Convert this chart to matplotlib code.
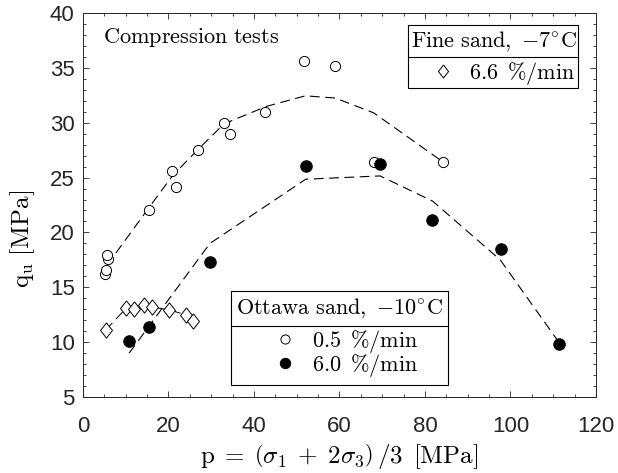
import matplotlib
matplotlib.use("Agg")
import matplotlib.pyplot as plt
from matplotlib.patches import Rectangle
from matplotlib.lines import Line2D
from matplotlib.ticker import MultipleLocator

plt.rcParams['mathtext.fontset'] = 'cm'
plt.rcParams['font.family'] = ['Liberation Sans', 'DejaVu Sans']
plt.rcParams['lines.scale_dashes'] = False

# Ottawa sand, -10 C, 0.5 %/min (open circles)
p_open = [5.2, 5.3, 5.9, 5.6, 15.5, 20.8, 21.8, 26.9, 33.0, 34.5, 42.6, 51.7, 59.0, 68.0, 84.3]
q_open = [16.2, 16.6, 17.6, 17.9, 22.05, 25.6, 24.1, 27.5, 29.95, 29.0, 31.0, 35.65, 35.2, 26.45, 26.45]

# Ottawa sand, -10 C, 6.0 %/min (filled circles)
p_fill = [10.8, 15.5, 29.7, 52.1, 69.4, 81.7, 97.8, 111.3]
q_fill = [10.13, 11.35, 17.3, 26.06, 26.25, 21.1, 18.46, 9.82]

# Fine sand, -7 C, 6.6 %/min (diamonds)
p_dia = [5.3, 10.1, 12.0, 14.2, 16.1, 20.1, 24.0, 25.8]
q_dia = [11.1, 13.1, 13.05, 13.4, 13.2, 12.95, 12.5, 11.95]

# trend lines (dashed)
p_trend_open = [5.6, 15.5, 21.0, 27.0, 33.0, 43.0, 52.0, 59.0, 68.0, 84.3]
q_trend_open = [17.0, 22.3, 25.2, 27.6, 29.9, 31.5, 32.45, 32.25, 30.9, 26.4]
p_trend_fill = [10.8, 29.7, 52.1, 69.5, 81.8, 97.6, 111.3]
q_trend_fill = [9.0, 19.0, 24.85, 25.15, 22.85, 17.5, 10.0]

fig = plt.figure(figsize=(6.18, 4.73), dpi=100)
ax = fig.add_axes([0.1343, 0.1607, 0.8301, 0.8118])

dash = (7, 4)
ax.plot(p_trend_open, q_trend_open, color='black', lw=0.8, dashes=dash, zorder=2)
ax.plot(p_trend_fill, q_trend_fill, color='black', lw=0.8, dashes=dash, zorder=2)
ax.plot(p_dia, q_dia, color='black', lw=0.7, dashes=dash, zorder=2)

dmark = [(0, 1), (0.78, 0), (0, -1), (-0.78, 0), (0, 1)]
h_dia, = ax.plot(p_dia, q_dia, ls='none', marker=dmark, ms=11, mfc='white',
                 mec='black', mew=0.7, zorder=3)
h_open, = ax.plot(p_open, q_open, ls='none', marker='o', ms=7.3, mfc='white',
                  mec='black', mew=0.7, zorder=3)
h_fill, = ax.plot(p_fill, q_fill, ls='none', marker='o', ms=8.3, mfc='black',
                  mec='black', mew=0.7, zorder=3)

ax.set_xlim(0, 120)
ax.set_ylim(5, 40)
ax.xaxis.set_major_locator(MultipleLocator(20))
ax.xaxis.set_minor_locator(MultipleLocator(5))
ax.yaxis.set_major_locator(MultipleLocator(5))
ax.yaxis.set_minor_locator(MultipleLocator(1))
gray = '#262626'
ax.tick_params(which='both', direction='in', top=True, right=True, colors=gray,
               width=0.6, labelsize=16)
ax.tick_params(which='major', length=4)
ax.tick_params(which='minor', length=2.2)
ax.tick_params(axis='x', pad=14)
ax.tick_params(axis='y', pad=6)
for s in ax.spines.values():
    s.set_color(gray)
    s.set_linewidth(0.7)

ax.set_xlabel(r"$\mathrm{p}\;=\;\left(\sigma_1\;+\;2\sigma_3\right)\,/3\ \,[\mathrm{MPa}]$",
              fontsize=18)
ax.set_ylabel(r"$\mathrm{q_u}\ [\mathrm{MPa}]$", fontsize=18)
ax.xaxis.set_label_coords(0.499, -0.156)
ax.xaxis.label.set_va('center')
ax.yaxis.set_label_coords(-0.117, 0.411)
ax.yaxis.label.set_va('center')

ax.text(0.0396, 0.9375, r"$\mathrm{Compression\ tests}$", transform=ax.transAxes,
        fontsize=16, ha='left', va='center')

fs = 16
# Fine sand box
ax.add_patch(Rectangle((0.634, 0.804), 0.330, 0.165, transform=ax.transAxes,
                       facecolor='white', edgecolor='black', lw=0.8, zorder=5))
ax.add_line(Line2D([0.634, 0.964], [0.885, 0.885], transform=ax.transAxes,
                   color='black', lw=0.8, zorder=6))
ax.text(0.801, 0.927, r"$\mathrm{Fine\ sand,}\ {-}7^{\circ}\mathrm{C}$",
        transform=ax.transAxes, fontsize=fs, ha='center', va='center', zorder=7)
leg1 = ax.legend([h_dia], [r"$6.6\ \,\%/\mathrm{min}$"], loc='center left',
                 bbox_to_anchor=(0.681, 0.843), frameon=False, fontsize=fs,
                 handlelength=1.0, handletextpad=0.63, borderpad=0,
                 borderaxespad=0, markerscale=0.85)
leg1.set_zorder(8)
ax.add_artist(leg1)

# Ottawa sand box
ax.add_patch(Rectangle((0.2885, 0.031), 0.4225, 0.245, transform=ax.transAxes,
                       facecolor='white', edgecolor='black', lw=0.8, zorder=5))
ax.add_line(Line2D([0.2885, 0.711], [0.186, 0.186], transform=ax.transAxes,
                   color='black', lw=0.8, zorder=6))
ax.text(0.4998, 0.232, r"$\mathrm{Ottawa\ sand,}\ {-}10^{\circ}\mathrm{C}$",
        transform=ax.transAxes, fontsize=fs, ha='center', va='center', zorder=7)
leg2 = ax.legend([h_open, h_fill],
                 [r"$0.5\ \,\%/\mathrm{min}$", r"$6.0\ \,\%/\mathrm{min}$"],
                 loc='center left', bbox_to_anchor=(0.372, 0.114), frameon=False,
                 fontsize=fs, handlelength=1.0, handletextpad=0.72, borderpad=0,
                 borderaxespad=0, labelspacing=-0.12, markerscale=0.9)
leg2.set_zorder(8)

fig.savefig("out.png", dpi=100)
